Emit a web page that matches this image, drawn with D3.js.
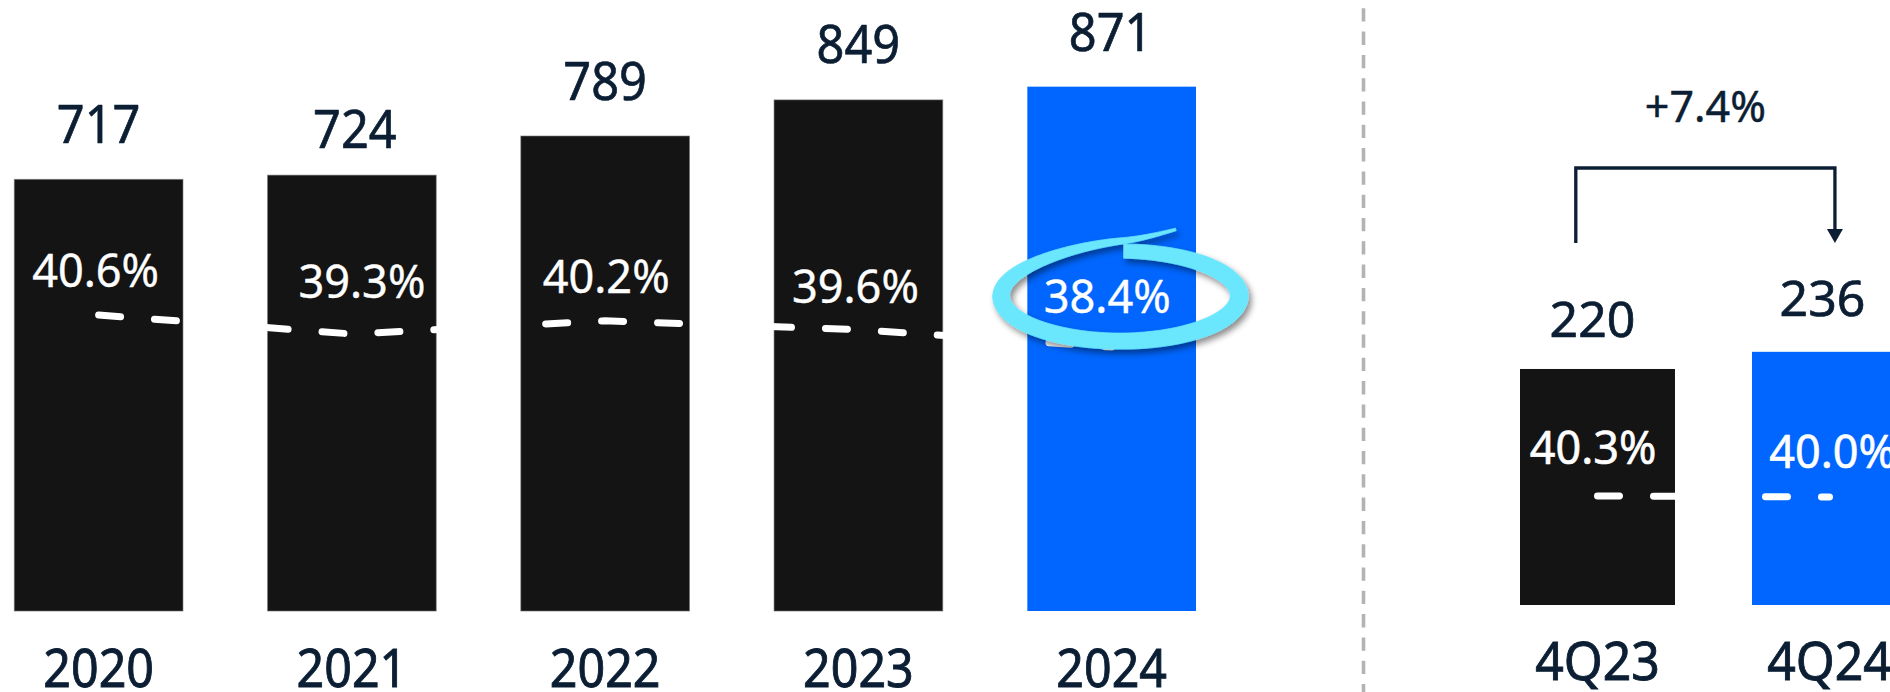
<!DOCTYPE html>
<html>
<head>
<meta charset="utf-8">
<script src="https://cdn.jsdelivr.net/npm/d3@7"></script>
<style>
  html, body { margin: 0; padding: 0; background: #ffffff; }
  svg { display: block; font-family: "Noto Sans", "Open Sans", sans-serif; }
</style>
</head>
<body>
<svg id="chart" width="1890" height="692"></svg>
<script>
// Full-year figures
const years = ["2020", "2021", "2022", "2023", "2024"];
const yearValues = [717, 724, 789, 849, 871];
const yearMargins = [40.6, 39.3, 40.2, 39.6, 38.4];

// Fourth-quarter figures
const quarters = ["4Q23", "4Q24"];
const quarterValues = [220, 236];
const quarterMargins = [40.3, 40.0];
const quarterGrowth = "+7.4%";

const NAVY = "#0b1e33";
const DARK = "#141414";
const BLUE = "#0066ff";
const CYAN = "#6be6fd";

const svg = d3.select("#chart");
const defs = svg.append("defs");
const shadow = defs.append("filter").attr("id", "scribbleShadow")
  .attr("x", "-20%").attr("y", "-30%").attr("width", "140%").attr("height", "170%");
shadow.append("feDropShadow")
  .attr("dx", 3).attr("dy", 4).attr("stdDeviation", 3)
  .attr("flood-color", "#000").attr("flood-opacity", 0.45);

function label(g, x, y, text, size, fill, sx = 1, weight = 0.7) {
  return g.append("text")
    .attr("transform", `translate(${x},${y}) scale(${sx},1)`)
    .attr("text-anchor", "middle")
    .attr("font-size", size)
    .attr("fill", fill)
    .attr("stroke", fill)
    .attr("stroke-width", weight)
    .attr("stroke-linejoin", "round")
    .text(text);
}

// ---------- Annual panel ----------
const left = svg.append("g");
const xYear = d3.scaleBand().domain(years).range([14.3, 1196]).paddingInner(0.334).paddingOuter(0);
const yYear = d3.scaleLinear().domain([0, 1000]).range([611, 9]);
const mYear = d3.scaleLinear().domain([38, 42]).range([352.96, 294.56]);
const yearData = years.map((k, i) => ({ key: k, value: yearValues[i], margin: yearMargins[i], last: i === years.length - 1 }));

left.selectAll("rect.bar").data(yearData).join("rect")
  .attr("class", "bar")
  .attr("x", d => xYear(d.key))
  .attr("y", d => yYear(d.value))
  .attr("width", xYear.bandwidth())
  .attr("height", d => yYear(0) - yYear(d.value))
  .attr("fill", d => d.last ? BLUE : DARK)
  .attr("stroke", d => d.last ? "none" : "#707070")
  .attr("stroke-opacity", 0.6)
  .attr("stroke-width", 1);

// margin trend line running through the bar centres
const yearLine = d3.line()
  .x(d => xYear(d.key) + xYear.bandwidth() / 2)
  .y(d => mYear(d.margin));
left.append("path").datum(yearData)
  .attr("d", yearLine)
  .attr("fill", "none")
  .attr("stroke", "#ffffff")
  .attr("stroke-width", 7)
  .attr("stroke-linecap", "round")
  .attr("stroke-dasharray", "22 34");

// value labels above bars
const valueLift = [36, 27, 36, 37, 36];
const valueNudge = [0, 3, 0, 0, -1];
yearData.forEach((d, i) => {
  label(left, xYear(d.key) + xYear.bandwidth() / 2 + valueNudge[i], yYear(d.value) - valueLift[i],
    d.value, 53, NAVY, 0.92);
});

// margin labels
const pctNudgeX = [-3, 10, 1, -3, -4.5];
const pctLift = [28, 36, 28, 27, 34];
const pctLabelPos = [];
yearData.forEach((d, i) => {
  const x = xYear(d.key) + xYear.bandwidth() / 2 + pctNudgeX[i];
  const y = mYear(d.margin) - pctLift[i];
  pctLabelPos.push([x, y]);
  label(left, x, y, d.margin.toFixed(1) + "%", 46, "#ffffff", 0.98, 0.4);
});

// category axis
const xAxisYear = d3.axisBottom(xYear).tickSize(0).tickPadding(39);
const axYear = left.append("g").attr("transform", `translate(0,${yYear(0)})`).call(xAxisYear);
axYear.select(".domain").remove();
axYear.selectAll("text")
  .attr("font-size", 52).attr("font-family", "Noto Sans, Open Sans, sans-serif")
  .attr("fill", NAVY).attr("stroke", NAVY).attr("stroke-width", 0.9)
  .attr("transform", "scale(0.93,1)");

// hand-drawn highlight loop around the latest margin
(function scribble() {
  const [lx, ly] = pctLabelPos[pctLabelPos.length - 1];
  const cx = lx + 13, cy = ly - 17, rx = 119;
  const TAU = Math.PI * 2;
  const end = TAU + 0.495;
  const ry = p => {
    if (p <= 1.55 * Math.PI) return 45;
    if (p <= TAU) { const t = (p - 1.55 * Math.PI) / (0.45 * Math.PI); return 45 + 10 * t * t; }
    const u = p - TAU;
    return 55 + 12.7 * u + 60 * u * u;
  };
  const width = d3.scaleLinear()
    .domain([0, 0.5 * Math.PI, Math.PI, 1.5 * Math.PI, 1.75 * Math.PI, TAU, end])
    .range([14, 18, 16, 17, 12, 6.5, 2.5]);
  const pts = [];
  for (let p = 0.03; p <= end + 1e-9; p += 0.02) {
    pts.push({ p, x: cx + rx * Math.sin(p), y: cy - ry(p) * Math.cos(p) });
  }
  const outer = [], inner = [];
  pts.forEach((pt, i) => {
    const a = pts[Math.max(0, i - 1)], b = pts[Math.min(pts.length - 1, i + 1)];
    let tx = b.x - a.x, ty = b.y - a.y;
    const len = Math.hypot(tx, ty) || 1;
    tx /= len; ty /= len;
    const nx = -ty, ny = tx, w = width(pt.p) / 2;
    outer.push([pt.x + nx * w, pt.y + ny * w]);
    inner.push([pt.x - nx * w, pt.y - ny * w]);
  });
  const poly = outer.concat(inner.reverse());
  svg.append("path")
    .attr("d", d3.line()(poly) + "Z")
    .attr("fill", CYAN)
    .attr("stroke", CYAN)
    .attr("stroke-width", 0.8)
    .attr("stroke-linejoin", "round")
    .attr("filter", "url(#scribbleShadow)");
})();

// ---------- Divider ----------
svg.append("line")
  .attr("x1", 1363.5).attr("x2", 1363.5)
  .attr("y1", 8.3).attr("y2", 692)
  .attr("stroke", "#b3b3b3").attr("stroke-width", 3.6)
  .attr("stroke-dasharray", "13.3 10");

// ---------- Quarterly panel ----------
const right = svg.append("g");
const xQ = d3.scaleBand().domain(quarters).range([1520, 1907]).paddingInner(0.332).paddingOuter(0);
const yQ = d3.scaleLinear().domain([0, 250]).range([605, 336.8]);
const mQ = d3.scaleLinear().domain([38, 42]).range([503.7, 490.3]);
const qData = quarters.map((k, i) => ({ key: k, value: quarterValues[i], margin: quarterMargins[i], last: i === quarters.length - 1 }));

right.selectAll("rect.bar").data(qData).join("rect")
  .attr("class", "bar")
  .attr("x", d => xQ(d.key))
  .attr("y", d => yQ(d.value))
  .attr("width", xQ.bandwidth())
  .attr("height", d => yQ(0) - yQ(d.value))
  .attr("fill", d => d.last ? BLUE : DARK);

right.append("path").datum(qData)
  .attr("d", d3.line().x(d => xQ(d.key) + xQ.bandwidth() / 2).y(d => mQ(d.margin)))
  .attr("fill", "none")
  .attr("stroke", "#ffffff")
  .attr("stroke-width", 7)
  .attr("stroke-linecap", "round")
  .attr("stroke-dasharray", "22 34");

const qValueLift = [32, 36];
const qValueNudge = [-5, -7];
qData.forEach((d, i) => {
  label(right, xQ(d.key) + xQ.bandwidth() / 2 + qValueNudge[i], yQ(d.value) - qValueLift[i],
    d.value, 50, NAVY, 1);
});

const qPctNudgeX = [-4.5, 3];
const qPctLift = [32, 29];
qData.forEach((d, i) => {
  label(right, xQ(d.key) + xQ.bandwidth() / 2 + qPctNudgeX[i], mQ(d.margin) - qPctLift[i],
    d.margin.toFixed(1) + "%", 45, "#ffffff", 1, 0.6);
});

const xAxisQ = d3.axisBottom(xQ).tickSize(0).tickPadding(38);
const axQ = right.append("g").attr("transform", `translate(0,${yQ(0)})`).call(xAxisQ);
axQ.select(".domain").remove();
axQ.selectAll("text")
  .attr("font-size", 52).attr("font-family", "Noto Sans, Open Sans, sans-serif")
  .attr("fill", NAVY).attr("stroke", NAVY).attr("stroke-width", 0.9)
  .attr("transform", "scale(0.96,1)");

// growth bracket from 4Q23 to 4Q24
const bx0 = xQ(quarters[0]) + xQ.bandwidth() * 0.36;
const bx1 = xQ(quarters[1]) + xQ.bandwidth() * 0.535;
const bTop = 168, bBottom = 243, head = 14;
right.append("path")
  .attr("d", `M${bx0},${bBottom} V${bTop} H${bx1} V${bBottom - head + 1}`)
  .attr("fill", "none").attr("stroke", NAVY).attr("stroke-width", 3.3);
right.append("path")
  .attr("d", `M${bx1 - 8},${bBottom - head} L${bx1 + 8},${bBottom - head} L${bx1},${bBottom} Z`)
  .attr("fill", NAVY);
label(right, (bx0 + bx1) / 2, 122, quarterGrowth, 43, NAVY, 1, 0.5);
</script>
</body>
</html>
